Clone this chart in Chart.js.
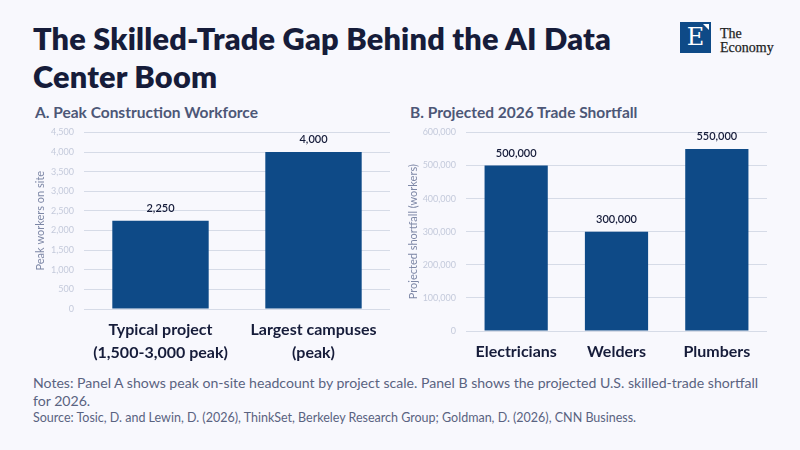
<!DOCTYPE html>
<html>
<head>
<meta charset="utf-8">
<script src="https://cdn.jsdelivr.net/npm/chart.js@4.4.1/dist/chart.umd.min.js"></script>
<style>
  html, body { margin: 0; padding: 0; }
  body { width: 800px; height: 450px; background: #f8f8fd; position: relative; overflow: hidden; font-family: Lato, "Noto Sans", sans-serif; }
  #title { position: absolute; left: 33px; top: 20px; font-size: 30.7px; font-weight: 800; line-height: 38px; color: #161c3a; letter-spacing: 0.2px; }
  .sub { position: absolute; top: 103px; font-size: 15.5px; font-weight: 700; color: #4d5777; }
  #boxA { position: absolute; left: 30px; top: 117px; width: 360px; height: 244px; }
  #boxB { position: absolute; left: 403px; top: 117px; width: 364px; height: 248px; }
  #notes { position: absolute; left: 33px; top: 374px; width: 745px; font-size: 14.1px; line-height: 18px; color: #5a6381; }
  #source { position: absolute; left: 33px; top: 410px; font-size: 12.5px; color: #5a6381; }
  #logo { position: absolute; left: 680px; top: 22px; }
  #logo .sq { position: absolute; left: 0; top: 0; width: 31px; height: 31px; background: #0e4a87; color: #fff; font-family: "DejaVu Serif", "Liberation Serif", serif; font-size: 24px; line-height: 31px; text-align: center; }
  #logo .tri { position: absolute; left: 23px; top: 2px; width: 0; height: 0; border-left: 6px solid transparent; border-top: 6px solid #fff; }
  #logo .txt { position: absolute; left: 40px; top: 5px; font-family: "Liberation Serif", "DejaVu Serif", serif; font-size: 14px; line-height: 14px; color: #1e1e1e; white-space: nowrap; -webkit-text-stroke: 0.25px #1e1e1e; }
</style>
</head>
<body>
<div id="title">The Skilled-Trade Gap Behind the AI Data<br>Center Boom</div>
<div id="logo"><div class="sq">E</div><div class="tri"></div><div class="txt">The<br>Economy</div></div>
<div class="sub" style="left:35px">A. Peak Construction Workforce</div>
<div class="sub" style="left:410px">B. Projected 2026 Trade Shortfall</div>
<div id="boxA"><canvas id="chartA"></canvas></div>
<div id="boxB"><canvas id="chartB"></canvas></div>
<div id="notes">Notes: Panel A shows peak on-site headcount by project scale. Panel B shows the projected U.S. skilled-trade shortfall for 2026.</div>
<div id="source">Source: Tosic, D. and Lewin, D. (2026), ThinkSet, Berkeley Research Group; Goldman, D. (2026), CNN Business.</div>
<script>
// Panel A data
const labelsA = [['Typical project', '(1,500-3,000 peak)'], ['Largest campuses', '(peak)']];
const valuesA = [2250, 4000];
const ticksA = { max: 4500, step: 500 };

// Panel B data
const labelsB = ['Electricians', 'Welders', 'Plumbers'];
const valuesB = [500000, 300000, 550000];
const ticksB = { max: 600000, step: 100000 };

const barColor = '#0e4a87';
const fontFam = 'Lato, "Noto Sans", sans-serif';

// draw value labels above each bar
const valueLabels = {
  id: 'valueLabels',
  afterDatasetsDraw(chart) {
    const ctx = chart.ctx;
    const meta = chart.getDatasetMeta(0);
    ctx.save();
    ctx.fillStyle = '#161c3a';
    ctx.font = '600 11px ' + fontFam;
    ctx.textAlign = 'center';
    ctx.textBaseline = 'bottom';
    meta.data.forEach((bar, i) => {
      const v = chart.data.datasets[0].data[i];
      ctx.fillText(v.toLocaleString('en-US'), bar.x, bar.y - 7);
    });
    ctx.restore();
  }
};

function makeChart(id, labels, values, ticks, yTitle, yWidth, xHeight) {
  return new Chart(document.getElementById(id), {
    type: 'bar',
    data: {
      labels: labels,
      datasets: [{ data: values, backgroundColor: barColor, barPercentage: 0.63, categoryPercentage: 1 }]
    },
    options: {
      responsive: true,
      maintainAspectRatio: false,
      animation: false,
      layout: { padding: 0 },
      plugins: { legend: { display: false }, tooltip: { enabled: false } },
      scales: {
        x: {
          grid: { display: false, drawTicks: false },
          border: { display: false },
          afterFit: s => { s.height = xHeight; },
          ticks: { color: '#161c3a', font: { family: fontFam, size: 16, weight: '700', lineHeight: 1.4 }, maxRotation: 0, padding: 10 }
        },
        y: {
          min: 0,
          max: ticks.max,
          afterFit: s => { s.width = yWidth; },
          grid: { color: '#d6dbe7', drawTicks: false },
          border: { display: false },
          ticks: {
            stepSize: ticks.step,
            color: '#c4cadb',
            padding: 10,
            font: { family: fontFam, size: 9 },
            callback: v => v.toLocaleString('en-US')
          },
          title: { display: true, text: yTitle, color: '#7d87a6', font: { family: fontFam, size: 11 } }
        }
      }
    },
    plugins: [valueLabels]
  });
}

makeChart('chartA', labelsA, valuesA, ticksA, 'Peak workers on site', 54, 52);
makeChart('chartB', labelsB, valuesB, ticksB, 'Projected shortfall (workers)', 63, 34);
</script>
</body>
</html>
